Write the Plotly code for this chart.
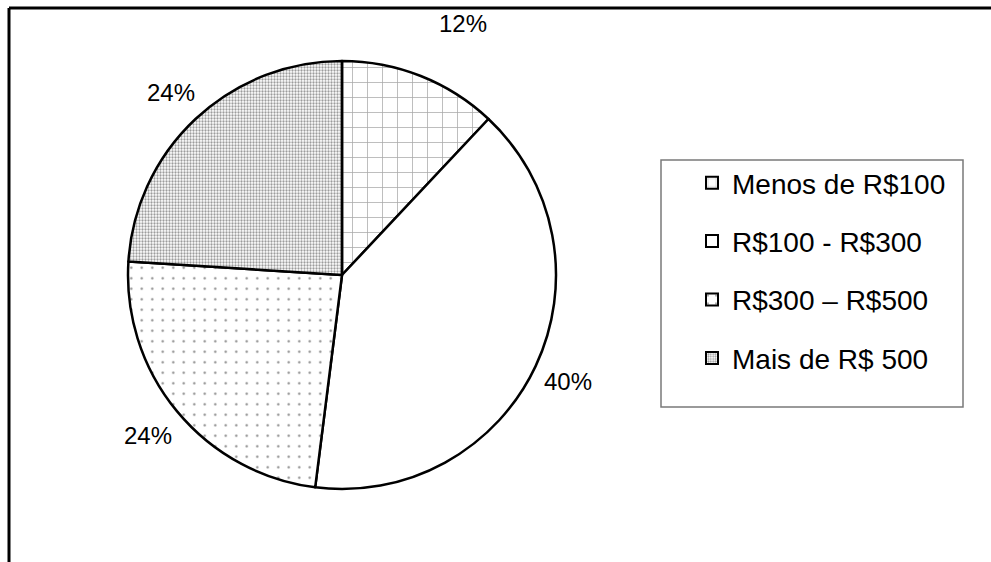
import math
import plotly.graph_objects as go

# Spending ranges and their share of respondents (%)
categories = ["Menos de R$100", "R$100 - R$300", "R$300 \u2013 R$500", "Mais de R$ 500"]
shares = [12, 40, 24, 24]

W, H = 991, 562
FONT = "Liberation Sans, Arial, sans-serif"

# fill patterns for each slice
patterns = [
    dict(shape="+", size=15, solidity=0.1, fgcolor="#555555"),
    dict(shape=""),
    dict(shape=".", size=10.5, solidity=0.04, fgcolor="#1a1a1a"),
    dict(shape=".", size=3, solidity=0.45, fgcolor="#3a3a3a"),
]

# pie geometry in pixels
cx, cy, R = 342, 275, 214
label_r = [279, 250, 252, 250]
label_turn = [4, 0, 0, 0]  # small angular nudge (degrees) for crowded labels


def px_x(x):
    return x / W


def px_y(y):
    return 1 - y / H


fig = go.Figure()

fig.add_trace(go.Pie(
    labels=categories,
    values=shares,
    sort=False,
    direction="clockwise",
    rotation=0,
    textinfo="none",
    hoverinfo="skip",
    showlegend=False,
    marker=dict(
        colors=["white"] * 4,
        line=dict(color="black", width=2.5),
        pattern=dict(
            shape=[p["shape"] for p in patterns],
            size=[p.get("size", 8) for p in patterns],
            solidity=[p.get("solidity", 0.3) for p in patterns],
            fgcolor=[p.get("fgcolor", "black") for p in patterns],
            bgcolor=["white"] * 4,
            fillmode="overlay",
        ),
    ),
    domain=dict(
        x=[px_x(cx - R), px_x(cx + R)],
        y=[px_y(cy + R), px_y(cy - R)],
    ),
))

# legend entries carrying the same fills
for i, (name, p) in enumerate(zip(categories, patterns)):
    pat = dict(p, bgcolor="white", fillmode="overlay") if p["shape"] else dict(shape="")
    fig.add_trace(go.Bar(
        x=[None], y=[None], name=name,
        legendgroup=f"g{i}",
        marker=dict(color="white", line=dict(color="black", width=2), pattern=pat),
        hoverinfo="skip",
    ))

# percentage labels placed around the pie at each slice's mid-angle
annotations = []
cum = 0
total = sum(shares)
for v, r, turn in zip(shares, label_r, label_turn):
    mid = (cum + v / 2) / total * 2 * math.pi + math.radians(turn)
    cum += v
    lx = cx + r * math.sin(mid)
    ly = cy - r * math.cos(mid)
    annotations.append(dict(
        x=px_x(lx), y=px_y(ly), xref="paper", yref="paper",
        text=f"{v}%", showarrow=False,
        font=dict(family=FONT, size=24, color="black"),
        xanchor="center", yanchor="middle",
    ))

shapes = [
    # outer frame (top and left edges)
    dict(type="line", xref="paper", yref="paper",
         x0=px_x(9), y0=px_y(8), x1=1.0, y1=px_y(8),
         line=dict(color="black", width=3)),
    dict(type="line", xref="paper", yref="paper",
         x0=px_x(9), y0=px_y(8), x1=px_x(9), y1=0.0,
         line=dict(color="black", width=3)),
    # legend box
    dict(type="rect", xref="paper", yref="paper",
         x0=px_x(661), y0=px_y(160), x1=px_x(963), y1=px_y(407),
         line=dict(color="#7a7a7a", width=1.5), fillcolor="rgba(0,0,0,0)"),
]

fig.update_layout(
    width=W, height=H,
    margin=dict(l=0, r=0, t=0, b=0),
    paper_bgcolor="white",
    plot_bgcolor="white",
    xaxis=dict(visible=False),
    yaxis=dict(visible=False),
    showlegend=True,
    legend=dict(
        x=px_x(692), y=px_y(158), xanchor="left", yanchor="top",
        bgcolor="rgba(0,0,0,0)", borderwidth=0,
        font=dict(family=FONT, size=28, color="black"),
        tracegroupgap=19,
        traceorder="grouped",
    ),
    annotations=annotations,
    shapes=shapes,
)

fig.write_html("out.html")
